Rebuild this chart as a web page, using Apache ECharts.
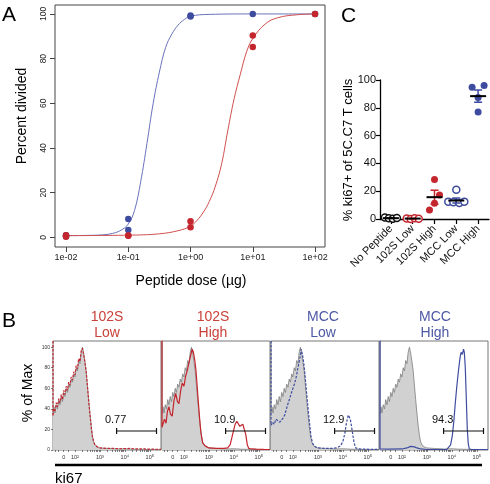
<!DOCTYPE html>
<html><head><meta charset="utf-8">
<script src="https://cdn.jsdelivr.net/npm/echarts@6.0.0/dist/echarts.min.js"></script>
<style>html,body{margin:0;padding:0;background:#fff}#c{width:490px;height:484px}</style>
</head><body><div id="c"></div>
<script>
// ---------- Panel A data ----------
const doseTicks = [0.01, 0.1, 1, 10, 100];
const doseTickLabels = ['1e-02','1e-01','1e+00','1e+01','1e+02'];
const percentTicks = [0, 20, 40, 60, 80, 100];
const mccDoses = [0.01, 0.01, 0.1, 0.1, 1, 1, 10, 100];
const mccDivided = [1.0, 0.5, 8.2, 3.3, 99.3, 98.8, 100, 100];
const s102Doses = [0.01, 0.01, 0.1, 0.1, 1, 1, 10, 10, 100];
const s102Divided = [1.0, 0.3, 0.8, 0.7, 7.2, 4.5, 90.3, 85.2, 100];
const mccFitLogDose = [-2, -1.5, -1.25, -1.1, -1.0, -0.9, -0.8, -0.7, -0.6, -0.5, -0.4, -0.3, -0.2, -0.1, 0, 0.3, 1, 2];
const mccFitY = [0.8, 1.0, 1.8, 3.5, 6, 12, 25, 42, 60, 74, 85, 91, 95, 97.5, 99, 99.8, 100, 100];
const s102FitLogDose = [-2, -1, -0.5, -0.2, 0, 0.1, 0.2, 0.3, 0.4, 0.5, 0.6, 0.7, 0.8, 0.9, 1.0, 1.2, 1.4, 1.7, 2];
const s102FitY = [0.8, 1.0, 1.6, 3, 5, 7.5, 11, 16, 23, 33, 48, 62, 73, 83, 89, 95.5, 98.3, 99.6, 100];

// ---------- Panel C data ----------
const cCategories = ['No Peptide', '102S Low', '102S High', 'MCC Low', 'MCC High'];
const cNoPeptide = [1.0, 0.5, 0.2, 0.8];
const c102SLow = [0.3, 0.0, 0.6, 0.2];
const c102SHigh = [28.4, 17.3, 11.3, 6.5];
const cMCCLow = [21, 12.5, 12, 11.5, 12.5];
const cMCCHigh = [94.7, 96, 87.5, 77];
const cMeans = [0.6, 0.3, 15.7, 13.3, 88.4];
const cSEMs = [0.2, 0.15, 5.0, 1.8, 4.4];

// ---------- Panel B data (x in decades of ki67 fluorescence) ----------
const bTitles = ['102S\nLow', '102S\nHigh', 'MCC\nLow', 'MCC\nHigh'];
const bTickValues = [1.55, 2, 3, 4, 5];
const bTickLabels = ['0', '10\u00b2', '10\u00b3', '10\u2074', '10\u2075'];
const bYTicks = [0, 20, 40, 60, 80, 100];
const gateText = ['0.77', '10.9', '12.9', '94.3'];
const gateRange = [3.67, 5.27];
const gateLevel = 18.5;

const ctrlU = [1.12,1.16,1.20,1.25,1.30,1.35,1.40,1.45,1.50,1.55,1.60,1.65,1.70,1.75,1.80,1.85,1.90,1.95,2.00,2.05,2.10,2.15,2.20,2.25,2.30,2.35,2.40,2.45,2.50,2.55,2.60,2.65,2.70,2.75,2.80,2.90,3.00,3.30,3.70,4.00,4.30,4.70,5.00,5.45];
const ctrlY = [35,42,36,44,40,49,44,52,47,56,52,60,56,64,61,69,66,74,71,80,77,87,84,95,100,94,86,77,63,49,36,24,14,8,5,3,2,1.5,1,1.2,0.8,0.6,0.5,0.5];

const s1U = [1.12,1.12,1.16,1.20,1.25,1.30,1.35,1.40,1.45,1.50,1.55,1.60,1.65,1.70,1.75,1.80,1.85,1.90,1.95,2.00,2.05,2.10,2.15,2.20,2.25,2.30,2.35,2.40,2.45,2.50,2.55,2.60,2.65,2.70,2.75,2.80,2.90,3.00,3.30,3.60,3.90,4.20,4.50,4.80,5.10,5.45];
const s1Y = [110,33,40,38,46,42,50,46,54,49,58,54,62,58,66,63,71,68,76,73,82,79,89,86,96,99,93,85,76,62,48,35,23,13,8,5,3,2,1.5,1.5,1.2,1.5,1,1,0.8,0.6];

const s2U = [1.12,1.12,1.22,1.28,1.34,1.40,1.46,1.53,1.60,1.67,1.74,1.80,1.87,1.93,2.00,2.07,2.14,2.20,2.27,2.33,2.38,2.43,2.48,2.53,2.58,2.63,2.68,2.75,2.85,3.0,3.3,3.6,3.75,3.85,3.95,4.05,4.12,4.18,4.24,4.30,4.36,4.42,4.48,4.54,4.60,4.70,4.90,5.20,5.45];
const s2Y = [110,22,30,26,38,42,35,33,48,55,47,45,58,65,62,72,78,85,92,98,95,88,78,62,46,30,17,7,4,2,1.5,1.5,2,5,15,25,28,27,23,22,25,24,15,5,1.5,1,0.8,0.6,0.5];

const s3U = [1.12,1.12,1.18,1.25,1.32,1.40,1.47,1.53,1.60,1.67,1.74,1.80,1.87,1.93,2.00,2.07,2.14,2.20,2.27,2.33,2.38,2.43,2.48,2.53,2.60,2.67,2.73,2.80,2.90,3.0,3.3,3.55,3.75,3.90,4.00,4.08,4.15,4.22,4.30,4.38,4.45,4.52,4.65,4.90,5.20,5.45];
const s3Y = [110,24,27,25,30,29,27,26,31,34,40,45,50,55,60,65,72,80,88,98,93,85,74,60,42,25,12,6,3,2,1.5,1.5,2,4,8,16,27,34,30,18,7,2,1,0.8,0.6,0.5];

const s4U = [1.12,1.12,1.5,2.0,2.2,2.35,2.5,2.6,2.75,3.0,3.5,3.80,3.87,3.95,4.02,4.08,4.14,4.20,4.27,4.33,4.37,4.42,4.47,4.50,4.54,4.58,4.62,4.66,4.70,4.80,5.45];
const s4Y = [110,1,0.8,1,2,3.5,3,2,1,0.5,0.5,0.5,1,5,14,28,46,62,78,90,95,93,98,95,80,50,20,6,1,0.5,0.5];

// ---------- styling ----------
const FONT = '"Liberation Sans", Arial, sans-serif';
const RED = '#c4262e', BLUE = '#3e4c9f';
const RED_LINE = '#d0504f', BLUE_LINE = '#6a72bd';
const TITLE_RED = '#c9413a', TITLE_BLUE = '#4c58a4';

const pairs = (xs, ys) => xs.map((x, i) => [x, ys[i]]);
const chart = echarts.init(document.getElementById('c'), null, {renderer: 'canvas'});

// grids
const grids = [
  {left: 55, top: 5, width: 270, height: 242, show: true, borderColor: '#444', borderWidth: 1},
  {left: 380, top: 80, width: 109, height: 139}
];
const bLefts = [53, 162, 271, 380];
bLefts.forEach(l => grids.push({left: l, top: 341, width: 108, height: 109, show: true, borderColor: '#777', borderWidth: 1}));

const logTicks = doseTicks.map(Math.log10);
const xAxes = [
  {gridIndex: 0, type: 'value', min: -2.177, max: 2.16, splitLine: {show: false},
   axisLine: {show: false, onZero: false},
   axisTick: {show: true, customValues: logTicks, length: 5, lineStyle: {color: '#444'}},
   axisLabel: {customValues: logTicks, fontSize: 9, color: '#222', margin: 6, fontFamily: FONT,
     formatter: v => doseTickLabels[logTicks.findIndex(t => Math.abs(t - v) < 1e-6)]}},
  {gridIndex: 1, type: 'category', data: cCategories,
   axisLine: {show: true, onZero: false, lineStyle: {color: '#000', width: 1.3}},
   axisTick: {show: true, alignWithLabel: true, length: 5, lineStyle: {color: '#000', width: 1.2}},
   axisLabel: {interval: 0, rotate: 45, fontSize: 11, color: '#111', margin: 8, fontFamily: FONT}}
];
const yAxes = [
  {gridIndex: 0, type: 'value', min: -4.3, max: 104, splitLine: {show: false},
   axisLine: {show: false, onZero: false},
   axisTick: {show: true, customValues: percentTicks, length: 5, lineStyle: {color: '#444'}},
   axisLabel: {customValues: percentTicks, rotate: 90, fontSize: 8.5, color: '#222', margin: 7, fontFamily: FONT}},
  {gridIndex: 1, type: 'value', min: 0, max: 100, interval: 20, splitLine: {show: false},
   axisLine: {show: true, onZero: false, lineStyle: {color: '#000', width: 1.3}},
   axisTick: {show: true, length: 4, lineStyle: {color: '#000', width: 1.2}},
   axisLabel: {fontSize: 11, color: '#111', margin: 4, fontFamily: FONT}}
];
// minor ticks for the fluorescence axes (log decades)
const bMinor = [];
[2, 3, 4].forEach(k => [2,3,4,5,6,7,8,9].forEach(m => bMinor.push(k + Math.log10(m))));
const bAllTicks = bTickValues.concat(bMinor, [1.2, 1.35, 1.75]);
bLefts.forEach((l, i) => {
  xAxes.push({gridIndex: 2 + i, type: 'value', min: 1.12, max: 5.45, splitLine: {show: false},
    axisLine: {show: false, onZero: false},
    axisTick: {show: true, customValues: bAllTicks, length: 2, lineStyle: {color: '#333', width: 0.6}},
    axisLabel: {customValues: bTickValues, fontSize: 5.5, color: '#333', margin: 4, fontFamily: FONT,
      formatter: v => bTickLabels[bTickValues.findIndex(t => Math.abs(t - v) < 1e-6)]}});
  yAxes.push({gridIndex: 2 + i, type: 'value', min: 0, max: 106, splitLine: {show: false},
    axisLine: {show: false, onZero: false},
    axisTick: {show: i === 0, customValues: bYTicks, length: 2, lineStyle: {color: '#333', width: 0.6}},
    axisLabel: {show: i === 0, customValues: bYTicks, fontSize: 5, color: '#333', margin: 3, fontFamily: FONT}});
});

const series = [];
// Panel A
series.push({type: 'line', xAxisIndex: 0, yAxisIndex: 0, data: pairs(mccFitLogDose, mccFitY), smooth: 0.4,
  showSymbol: false, lineStyle: {color: BLUE_LINE, width: 1}, z: 2, silent: true});
series.push({type: 'line', xAxisIndex: 0, yAxisIndex: 0, data: pairs(s102FitLogDose, s102FitY), smooth: 0.4,
  showSymbol: false, lineStyle: {color: RED_LINE, width: 1}, z: 2, silent: true});
series.push({type: 'scatter', xAxisIndex: 0, yAxisIndex: 0, data: pairs(mccDoses.map(Math.log10), mccDivided),
  symbolSize: 6.5, itemStyle: {color: BLUE, opacity: 1}, z: 3});
series.push({type: 'scatter', xAxisIndex: 0, yAxisIndex: 0, data: pairs(s102Doses.map(Math.log10), s102Divided),
  symbolSize: 6.5, itemStyle: {color: RED, opacity: 1}, z: 4});

// Panel C
const cGroups = [cNoPeptide, c102SLow, c102SHigh, cMCCLow, cMCCHigh];
const cColors = ['#111111', RED, RED, BLUE, BLUE];
const cFilled = [false, false, true, false, true];
const cJitterPx = [[-6,-2,2,6], [-6,-2,2,6], [0,5,0,-5], [0,-8,-3,3,8], [-6,6,0,0]];
const cItems = [];
cGroups.forEach((vals, i) => vals.forEach((v, j) => cItems.push({
  value: [i, v], symbolOffset: [cJitterPx[i][j], 0],
  itemStyle: cFilled[i] ? {color: cColors[i], opacity: 1} : {color: '#fff', borderColor: cColors[i], borderWidth: 1.5, opacity: 1}
})));
series.push({type: 'scatter', xAxisIndex: 1, yAxisIndex: 1, data: cItems, symbolSize: 7, z: 3, clip: false});
series.push({type: 'custom', xAxisIndex: 1, yAxisIndex: 1, z: 5, clip: false,
  data: cMeans.map((m, i) => [i, m, cSEMs[i]]),
  encode: {x: 0, y: 1},
  renderItem: (params, api) => {
    const i = api.value(0), m = api.value(1), s = api.value(2);
    const c = api.coord([i, m]);
    const top = api.coord([i, m + s]), bot = api.coord([i, m - s]);
    const col = cColors[i];
    return {type: 'group', children: [
      {type: 'line', shape: {x1: c[0], y1: top[1], x2: c[0], y2: bot[1]}, style: {stroke: col, lineWidth: 1.5}},
      {type: 'line', shape: {x1: c[0] - 4, y1: top[1], x2: c[0] + 4, y2: top[1]}, style: {stroke: col, lineWidth: 1.5}},
      {type: 'line', shape: {x1: c[0] - 4, y1: bot[1], x2: c[0] + 4, y2: bot[1]}, style: {stroke: col, lineWidth: 1.5}},
      {type: 'line', shape: {x1: c[0] - 8, y1: c[1], x2: c[0] + 8, y2: c[1]}, style: {stroke: '#000', lineWidth: 2}}
    ]};
  }});

// Panel B
const samples = [[s1U, s1Y], [s2U, s2Y], [s3U, s3Y], [s4U, s4Y]];
const sColors = [RED, RED, BLUE, BLUE];
const sDashed = [true, false, true, false];
samples.forEach((s, i) => {
  series.push({type: 'line', xAxisIndex: 2 + i, yAxisIndex: 2 + i, data: pairs(ctrlU, ctrlY), showSymbol: false,
    lineStyle: {color: '#7d7d7d', width: 0.8}, areaStyle: {color: '#d1d1d1', opacity: 1}, z: 2, silent: true});
  series.push({type: 'line', xAxisIndex: 2 + i, yAxisIndex: 2 + i, data: pairs(s[0], s[1]), showSymbol: false,
    lineStyle: {color: sColors[i], width: 1.2, type: sDashed[i] ? [2.5, 1.5] : 'solid'}, z: 3, silent: true});
  series.push({type: 'line', xAxisIndex: 2 + i, yAxisIndex: 2 + i, z: 4, silent: true,
    data: [{value: [gateRange[0], gateLevel], label: {show: true, formatter: gateText[i], position: 'top', distance: 3,
             offset: [-1, 0], fontSize: 11, color: '#111', fontFamily: FONT}},
           {value: [gateRange[1], gateLevel]}],
    symbol: 'rect', symbolSize: [1.2, 6], itemStyle: {color: '#111'},
    lineStyle: {color: '#111', width: 1.2}});
});

// Text & decorations
const bCenters = [107, 213, 323, 435];
const bColors = [TITLE_RED, TITLE_RED, TITLE_BLUE, TITLE_BLUE];
const graphic = [
  {type: 'text', x: 2, y: 5, style: {text: 'A', font: '21px ' + FONT, fill: '#000'}},
  {type: 'text', x: 341, y: 6, style: {text: 'C', font: '21px ' + FONT, fill: '#000'}},
  {type: 'text', x: 2, y: 311, style: {text: 'B', font: '21px ' + FONT, fill: '#000'}},
  {type: 'text', x: 22, y: 116, rotation: Math.PI / 2,
   style: {text: 'Percent divided', font: '14px ' + FONT, fill: '#000', textAlign: 'center', textVerticalAlign: 'middle'}},
  {type: 'text', x: 191, y: 281,
   style: {text: 'Peptide dose (\u00b5g)', font: '14px ' + FONT, fill: '#000', textAlign: 'center', textVerticalAlign: 'middle'}},
  {type: 'text', x: 348, y: 150, rotation: Math.PI / 2,
   style: {text: '% ki67+ of 5C.C7 T cells', font: '13px ' + FONT, fill: '#000', textAlign: 'center', textVerticalAlign: 'middle'}},
  {type: 'text', x: 28, y: 393, rotation: Math.PI / 2,
   style: {text: '% of Max', font: '14px ' + FONT, fill: '#000', textAlign: 'center', textVerticalAlign: 'middle'}},
  {type: 'line', shape: {x1: 55, y1: 465, x2: 482, y2: 465}, style: {stroke: '#000', lineWidth: 2.5}},
  {type: 'text', x: 55, y: 479,
   style: {text: 'ki67', font: '15px ' + FONT, fill: '#000', textAlign: 'left', textVerticalAlign: 'middle'}}
];
bTitles.forEach((t, i) => graphic.push({type: 'text', x: bCenters[i], y: 325,
  style: {text: t, font: '14px ' + FONT, fill: bColors[i], textAlign: 'center', textVerticalAlign: 'middle', lineHeight: 16}}));

chart.setOption({
  animation: false,
  backgroundColor: '#fff',
  textStyle: {fontFamily: FONT},
  grid: grids,
  xAxis: xAxes,
  yAxis: yAxes,
  series: series,
  graphic: graphic
});
</script></body></html>
